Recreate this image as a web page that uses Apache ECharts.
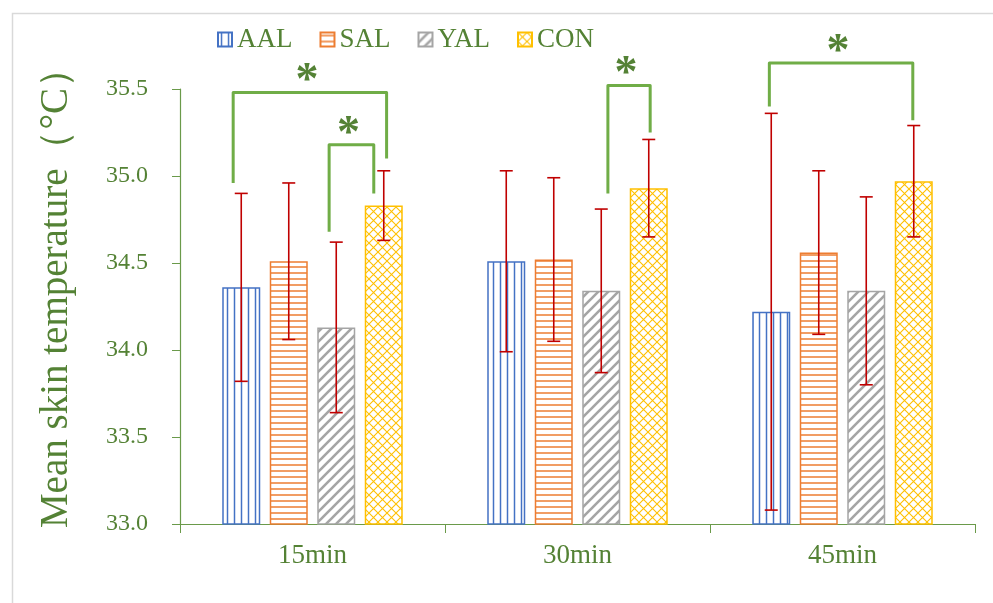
<!DOCTYPE html>
<html>
<head>
<meta charset="utf-8">
<script src="https://cdn.jsdelivr.net/npm/echarts@6/dist/echarts.min.js"></script>
<style>
html,body{margin:0;padding:0;background:#fff;}
#chart{width:993px;height:603px;}
</style>
</head>
<body>
<div id="chart"></div>
<script>
// ---- data ----
const categories = ['15min', '30min', '45min'];
const seriesNames = ['AAL', 'SAL', 'YAL', 'CON'];
const aalMean = [34.36, 34.51, 34.22];
const aalSD   = [0.54, 0.52, 1.14];
const salMean = [34.51, 34.52, 34.56];
const salSD   = [0.45, 0.47, 0.47];
const yalMean = [34.13, 34.34, 34.34];
const yalSD   = [0.49, 0.47, 0.54];
const conMean = [34.83, 34.93, 34.97];
const conSD   = [0.20, 0.28, 0.32];
const yMin = 33.0, yMax = 35.5, yStep = 0.5;
// significance brackets: category, left/right slot (bar index units), top, left end, right end
const bracketCategory = [0, 0, 1, 2];
const bracketFrom     = [-0.17, 1.85, 2.14, -0.04];
const bracketTo       = [3.06, 2.79, 3.03, 2.98];
const bracketTop      = [35.48, 35.18, 35.52, 35.65];
const bracketLeftEnd  = [34.96, 34.68, 34.90, 35.40];
const bracketRightEnd = [35.10, 34.90, 35.25, 35.32];
const bracketLabel    = ['*', '*', '*', '*'];

// ---- style ----
const FONT = '"Liberation Serif","Times New Roman",serif';
const TXT = '#548235';
const AXIS = '#6A9A4A';
const BAR_W = 38, GAP_RATIO = 0.25;
const STEP = BAR_W * (1 + GAP_RATIO);
const colors = ['#4472C4', '#ED7D31', '#A5A5A5', '#FFC000'];

function makePattern(kind, color) {
  const c = document.createElement('canvas');
  let w = 8, h = 8;
  if (kind === 'v') { w = 7; h = 7; }
  if (kind === 'h') { w = 6; h = 6; }
  if (kind === 'd') { w = 10; h = 10; }
  if (kind === 'x') { w = 9; h = 9; }
  c.width = w; c.height = h;
  const ctx = c.getContext('2d');
  ctx.fillStyle = '#ffffff';
  ctx.fillRect(0, 0, w, h);
  ctx.strokeStyle = color;
  ctx.beginPath();
  if (kind === 'v') {
    ctx.lineWidth = 1.5;
    ctx.moveTo(3.5, 0); ctx.lineTo(3.5, h);
  } else if (kind === 'h') {
    ctx.lineWidth = 1.5;
    ctx.moveTo(0, 3); ctx.lineTo(w, 3);
  } else if (kind === 'd') {
    ctx.lineWidth = 2.6;
    ctx.moveTo(-1, h + 1); ctx.lineTo(w + 1, -1);
    ctx.moveTo(-2, 2); ctx.lineTo(2, -2);
    ctx.moveTo(w - 2, h + 2); ctx.lineTo(w + 2, h - 2);
  } else if (kind === 'x') {
    ctx.lineWidth = 1.1;
    ctx.moveTo(0, 0); ctx.lineTo(w, h);
    ctx.moveTo(0, h); ctx.lineTo(w, 0);
  }
  ctx.stroke();
  return { image: c, repeat: 'repeat' };
}
const patterns = [
  makePattern('v', colors[0]),
  makePattern('h', colors[1]),
  makePattern('d', colors[2]),
  makePattern('x', colors[3])
];

const means = [aalMean, salMean, yalMean, conMean];
const sds = [aalSD, salSD, yalSD, conSD];

const barSeries = seriesNames.map((name, i) => ({
  name: name,
  type: 'bar',
  barWidth: BAR_W,
  barGap: (GAP_RATIO * 100) + '%',
  data: means[i],
  itemStyle: { color: patterns[i], borderColor: colors[i], borderWidth: 1.5 },
  emphasis: { disabled: true },
  z: 2
}));

const errData = [];
for (let s = 0; s < 4; s++) {
  for (let c = 0; c < categories.length; c++) {
    errData.push([c, s, means[s][c] - sds[s][c], means[s][c] + sds[s][c]]);
  }
}

const errSeries = {
  type: 'custom',
  z: 5,
  silent: true,
  data: errData,
  encode: { x: 0, y: [2, 3] },
  renderItem: function (params, api) {
    const cat = api.value(0), s = api.value(1);
    const lo = api.coord([cat, api.value(2)]);
    const hi = api.coord([cat, api.value(3)]);
    const x = lo[0] + (s - 1.5) * STEP;
    const cap = 6.5;
    const st = { stroke: '#C00000', lineWidth: 1.6 };
    return {
      type: 'group',
      children: [
        { type: 'line', shape: { x1: x, y1: lo[1], x2: x, y2: hi[1] }, style: st },
        { type: 'line', shape: { x1: x - cap, y1: lo[1], x2: x + cap, y2: lo[1] }, style: st },
        { type: 'line', shape: { x1: x - cap, y1: hi[1], x2: x + cap, y2: hi[1] }, style: st }
      ]
    };
  }
};

const brData = bracketCategory.map((c, i) => [c, bracketFrom[i], bracketTo[i], bracketTop[i], bracketLeftEnd[i], bracketRightEnd[i], i]);
const bracketSeries = {
  type: 'custom',
  z: 6,
  silent: true,
  clip: false,
  data: brData,
  encode: { x: 0, y: 3 },
  renderItem: function (params, api) {
    const cat = api.value(0);
    const base = api.coord([cat, api.value(3)]);
    const yTop = base[1];
    const yL = api.coord([cat, api.value(4)])[1];
    const yR = api.coord([cat, api.value(5)])[1];
    const xL = base[0] + (api.value(1) - 1.5) * STEP;
    const xR = base[0] + (api.value(2) - 1.5) * STEP;
    const idx = api.value(6);
    return {
      type: 'group',
      children: [
        { type: 'polyline', shape: { points: [[xL, yL], [xL, yTop], [xR, yTop], [xR, yR]] },
          style: { stroke: '#70AD47', lineWidth: 3, fill: null, lineJoin: 'round' } },
        { type: 'text', x: (xL + xR) / 2 - 3, y: yTop + 13,
          style: { text: bracketLabel[idx], fill: TXT, font: 'bold 46px ' + FONT, align: 'center', verticalAlign: 'bottom' } }
      ]
    };
  }
};

const chart = echarts.init(document.getElementById('chart'), null, { renderer: 'canvas' });
chart.setOption({
  animation: false,
  backgroundColor: '#ffffff',
  graphic: [{
    type: 'rect', left: 10, top: 11, silent: true,
    shape: { width: 1100, height: 700 },
    style: { fill: null, stroke: '#D9D9D9', lineWidth: 1.5 }
  }],
  legend: {
    data: seriesNames,
    left: 212, top: 21,
    itemWidth: 14, itemHeight: 14, itemGap: 27,
    icon: 'rect',
    textStyle: { fontFamily: FONT, fontSize: 27, color: TXT }
  },
  grid: { left: 180, right: 18, top: 89, bottom: 79, containLabel: false },
  xAxis: {
    type: 'category',
    data: categories,
    axisLine: { lineStyle: { color: AXIS, width: 1.2 } },
    axisTick: { show: true, length: 9, lineStyle: { color: AXIS } },
    axisLabel: { fontFamily: FONT, fontSize: 27, color: TXT, margin: 18 }
  },
  yAxis: {
    type: 'value',
    min: yMin, max: yMax, interval: yStep,
    name: 'Mean skin temperature（°C）',
    nameLocation: 'middle',
    nameRotate: 90,
    nameGap: 104,
    nameTextStyle: { fontFamily: FONT, fontSize: 39, color: TXT, padding: [0, 0, 0, 36] },
    splitLine: { show: false },
    axisLine: { show: true, lineStyle: { color: AXIS, width: 1.2 } },
    axisTick: { show: true, length: 8, lineStyle: { color: AXIS } },
    axisLabel: { fontFamily: FONT, fontSize: 24, color: TXT, margin: 32,
      formatter: v => v.toFixed(1) }
  },
  series: barSeries.concat([errSeries, bracketSeries])
});
</script>
</body>
</html>
